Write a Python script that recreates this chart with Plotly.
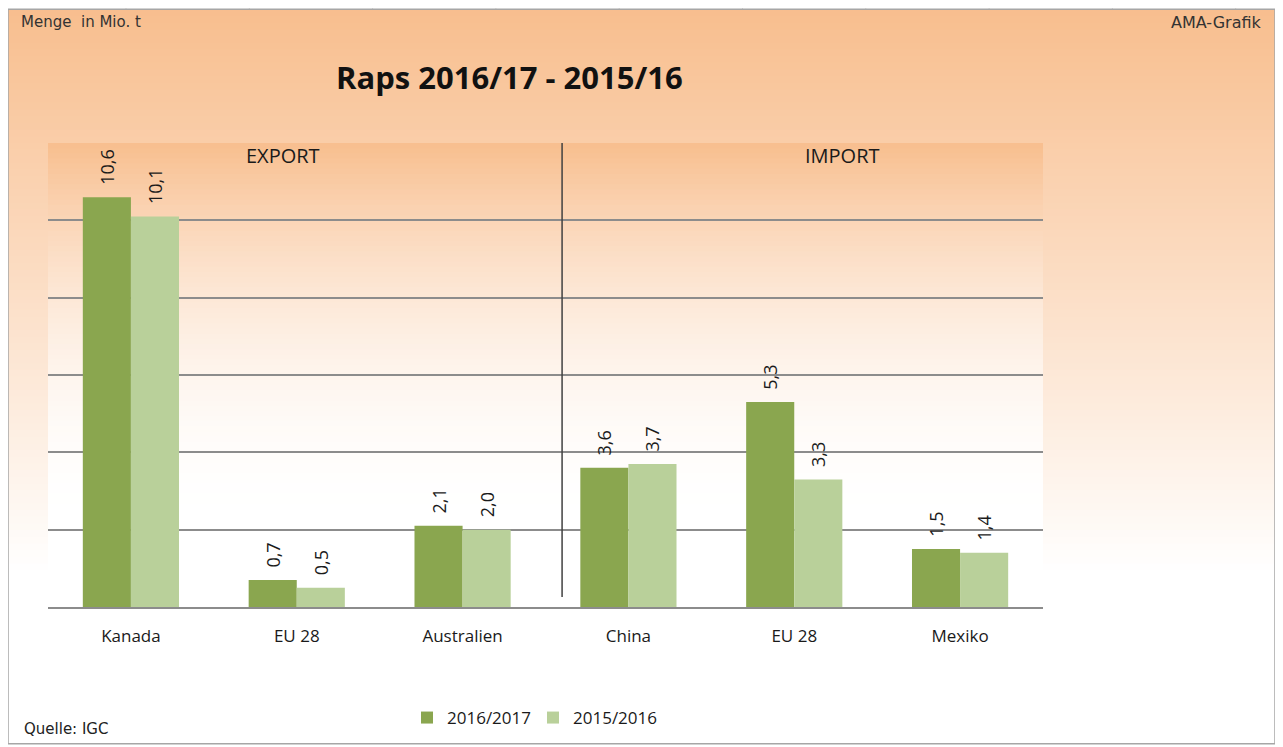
import plotly.graph_objects as go

# ---------------- data ----------------
categories = ["Kanada", "EU 28", "Australien", "China", "EU 28", "Mexiko"]
x_pos = [0, 1, 2, 3, 4, 5]
series_names = ["2016/2017", "2015/2016"]
values_1617 = [10.6, 0.7, 2.1, 3.6, 5.3, 1.5]
values_1516 = [10.1, 0.5, 2.0, 3.7, 3.3, 1.4]
y_ticks = [0, 2, 4, 6, 8, 10, 12]

# ---------------- styles ----------------
OFF = 8  # page body margin of the html output
W, H = 1283 - OFF, 747 - OFF
# plot area, in page pixels
PL, PR, PT, PB = 48, 1043, 143, 608
DARK = "#8AA64F"
LIGHT = "#B9D09A"
ORANGE = (248, 190, 142)
BODY_FONT = "Open Sans"
ARIAL = "DejaVu Sans"


def xp(px):
    return (px - PL) / (PR - PL)


def yp(py):
    return (PB - py) / (PB - PT)


def mix(c, t):
    t = max(0.0, min(1.0, t))
    return "rgb(%d,%d,%d)" % tuple(round(a + (255 - a) * t) for a in c)


shapes = []

# Excel-like sheet grid outside the chart
for k in range(10):
    gx = 126 + 123.3 * k
    shapes.append(dict(type="line", xref="paper", yref="paper", x0=xp(gx), x1=xp(gx),
                       y0=yp(0), y1=yp(9), line=dict(color="#D9D9D9", width=1), layer="below"))
for k in range(24):
    gy = 9 + 31 * k
    if gy > 747:
        break
    for a, b in ((0, 8), (1275, 1283)):
        shapes.append(dict(type="line", xref="paper", yref="paper", x0=xp(a), x1=xp(b),
                           y0=yp(gy), y1=yp(gy), line=dict(color="#D9D9D9", width=1), layer="below"))

# chart area gradient
CA_L, CA_R, CA_T, CA_B = 8, 1275, 9, 745
n = 110
step = (CA_B - CA_T) / n
for i in range(n):
    t = (i + 0.5) / n
    y0 = CA_T + i * step
    shapes.append(dict(type="rect", xref="paper", yref="paper", x0=xp(CA_L), x1=xp(CA_R),
                       y0=yp(y0), y1=yp(min(CA_B, y0 + step + 1)),
                       fillcolor=mix(ORANGE, t * 1.3), line=dict(width=0), layer="below"))

# plot area gradient
n2 = 90
step2 = (PB - PT) / n2
for i in range(n2):
    t = (i + 0.5) / n2
    y0 = PT + i * step2
    m = 1 - max(0.0, 1 - t * 1.2) ** 2
    shapes.append(dict(type="rect", xref="paper", yref="paper", x0=0, x1=1,
                       y0=yp(y0), y1=yp(min(PB, y0 + step2 + 1)),
                       fillcolor=mix(ORANGE, m), line=dict(width=0), layer="below"))

# chart border
shapes.append(dict(type="rect", xref="paper", yref="paper", x0=xp(CA_L), x1=xp(CA_R),
                   y0=yp(CA_T), y1=yp(CA_B), line=dict(color="#A6A6A6", width=1.5),
                   fillcolor="rgba(0,0,0,0)", layer="above"))

# Export / Import divider
shapes.append(dict(type="line", xref="x", yref="y", x0=2.6, x1=2.6, y0=0.26, y1=12.27,
                   line=dict(color="#404040", width=1.5), layer="above"))

fig = go.Figure()
for name, vals, col in ((series_names[0], values_1617, DARK), (series_names[1], values_1516, LIGHT)):
    fig.add_trace(go.Bar(
        x=x_pos, y=vals, name=name, marker=dict(color=col, line=dict(width=0)),
        texttemplate="\u00a0\u00a0%{y:.1f}", textposition="outside", textangle=-90,
        textfont=dict(family=BODY_FONT, size=18, color="#1a1a1a"),
        constraintext="none", cliponaxis=False,
    ))

unit = (PB - PT) / 12
annotations = [
    dict(text="<b>Raps 2016/17 - 2015/16</b>", xref="paper", yref="paper", x=xp(509), y=yp(77),
         xanchor="center", yanchor="middle",
         showarrow=False, font=dict(family=BODY_FONT, size=31, color="#111111")),
    dict(text="EXPORT", xref="x", yref="y", x=0.917, y=(PB - 156) / unit,
         xanchor="center", yanchor="middle",
         showarrow=False, font=dict(family=BODY_FONT, size=20, color="#1a1a1a")),
    dict(text="IMPORT", xref="x", yref="y", x=4.29, y=(PB - 156) / unit,
         xanchor="center", yanchor="middle",
         showarrow=False, font=dict(family=BODY_FONT, size=20, color="#1a1a1a")),
    dict(text="Menge  in Mio. t", xref="paper", yref="paper", x=xp(19), y=yp(22),
         xanchor="left", yanchor="middle", showarrow=False,
         font=dict(family=ARIAL, size=15, color="#333333")),
    dict(text="AMA-Grafik", xref="paper", yref="paper", x=xp(1264), y=yp(22),
         xanchor="right", yanchor="middle", showarrow=False,
         font=dict(family=ARIAL, size=16, color="#333333")),
    dict(text="Quelle: IGC", xref="paper", yref="paper", x=xp(22), y=yp(730),
         xanchor="left", yanchor="middle", showarrow=False,
         font=dict(family=ARIAL, size=15, color="#222222")),
]

fig.update_layout(
    width=W, height=H,
    margin=dict(l=PL - OFF, r=1283 - PR, t=PT - OFF, b=747 - PB, pad=0),
    paper_bgcolor="white", plot_bgcolor="rgba(0,0,0,0)",
    separators=",.",
    barmode="group", bargap=0.42, bargroupgap=0,
    shapes=shapes, annotations=annotations,
    showlegend=True,
    legend=dict(orientation="h", x=xp(407), xanchor="left", y=yp(718), yanchor="middle",
                font=dict(family=BODY_FONT, size=17, color="#1a1a1a"),
                bgcolor="rgba(0,0,0,0)", entrywidth=81, tracegroupgap=0),
    xaxis=dict(range=[-0.5, 5.5], tickvals=x_pos, ticktext=categories, showgrid=False,
               zeroline=False, showline=True, linecolor="#8C8C8C", linewidth=1.5, ticks="",
               tickfont=dict(family=BODY_FONT, size=17, color="#1a1a1a"), ticklabelstandoff=13,
               fixedrange=True),
    yaxis=dict(range=[0, 12], tickvals=y_ticks, showticklabels=False, showgrid=True,
               gridcolor="#8C8C8C", gridwidth=1.5, zeroline=False, showline=False, ticks="",
               fixedrange=True),
    font=dict(family=BODY_FONT),
)

fig.write_html("out.html")
